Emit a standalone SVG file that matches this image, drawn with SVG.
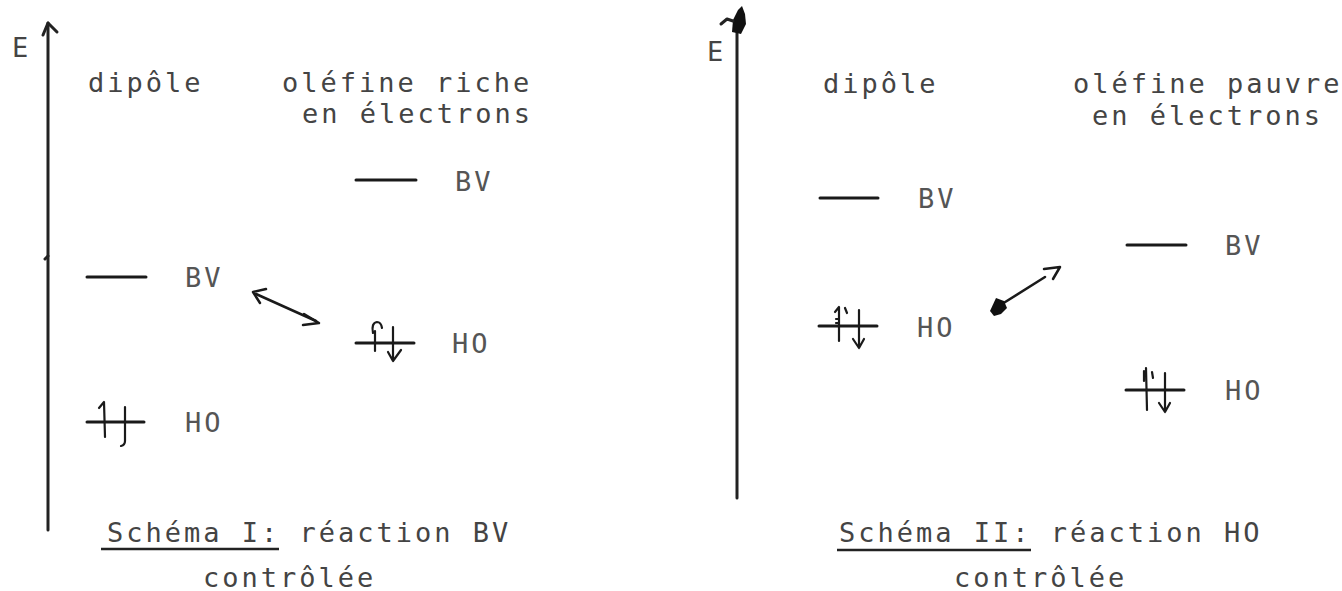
<svg xmlns="http://www.w3.org/2000/svg" width="1342" height="591" viewBox="0 0 1342 591">
<style>
  text { font-family: "DejaVu Sans Mono", "Liberation Mono", monospace; font-size: 27px; letter-spacing: 3px; fill: #444; }
  .lbl { fill: #555; }
  .lvl { stroke: #1a1a1a; stroke-width: 3; stroke-linecap: round; fill: none; }
  .e { stroke: #1a1a1a; stroke-width: 2.2; stroke-linecap: round; stroke-linejoin: round; fill: none; }
  .axis { stroke: #222; stroke-width: 3; fill: none; stroke-linecap: round; stroke-linejoin: round; }
  .ul { stroke: #222; stroke-width: 2.5; }
  .conn { stroke: #1a1a1a; stroke-width: 2.5; fill: none; stroke-linecap: round; stroke-linejoin: round; }
</style>

<!-- Scheme I -->
<g id="axis1">
  <line class="axis" x1="48" y1="23" x2="48" y2="530"/>
  <path class="axis" d="M 43 35 L 48 23 L 57 32"/>
  <path class="axis" d="M 48 256 L 45 259"/>
  <text x="12" y="57">E</text>
</g>
<g id="head1-dipole"><text x="88" y="92">dipôle</text></g>
<g id="head1-olefin">
  <text x="282" y="92">oléfine riche</text>
  <text x="302" y="123">en électrons</text>
</g>
<g id="s1-olefin-BV">
  <line class="lvl" x1="356" y1="180" x2="416" y2="180"/>
  <text class="lbl" x="455" y="191">BV</text>
</g>
<g id="s1-dipole-BV">
  <line class="lvl" x1="87" y1="277" x2="146" y2="277"/>
  <text class="lbl" x="185" y="287">BV</text>
</g>
<g id="s1-olefin-HO">
  <line class="lvl" x1="356" y1="343" x2="414" y2="343"/>
  <path class="e" d="M 375 351 L 375 331 M 373 333 Q 371 323 377 322 Q 381 322 382 328"/>
  <path class="e" d="M 393 327 L 393 361 M 388 352 L 393 361 L 401 350"/>
  <text class="lbl" x="452" y="353">HO</text>
</g>
<g id="s1-dipole-HO">
  <line class="lvl" x1="87" y1="422" x2="144" y2="422"/>
  <path class="e" d="M 104 402 L 105 437 M 99 408 L 104 402"/>
  <path class="e" d="M 125 407 L 125 441 Q 125 445 121 446"/>
  <text class="lbl" x="185" y="432">HO</text>
</g>
<g id="caption1">
  <text x="107" y="542">Schéma I: réaction BV</text>
  <line class="ul" x1="101" y1="549" x2="279" y2="549"/>
  <text x="203" y="587">contrôlée</text>
</g>

<!-- Scheme II -->
<g id="axis2">
  <line class="axis" x1="737" y1="24" x2="737" y2="498"/>
  <path d="M 732 32 L 733 20 L 738 10 L 742 6 L 745 14 L 746 24 L 741 34 Z" fill="#111"/>
  <path class="axis" d="M 721 24 L 727 19 L 733 21" stroke-width="2"/>
  <text x="707" y="61">E</text>
</g>
<g id="head2-dipole"><text x="823" y="93">dipôle</text></g>
<g id="head2-olefin">
  <text x="1073" y="93">oléfine pauvre</text>
  <text x="1092" y="125">en électrons</text>
</g>
<g id="s2-dipole-BV">
  <line class="lvl" x1="820" y1="198" x2="878" y2="198"/>
  <text class="lbl" x="918" y="208">BV</text>
</g>
<g id="s2-olefin-BV">
  <line class="lvl" x1="1127" y1="245" x2="1186" y2="245"/>
  <text class="lbl" x="1225" y="255">BV</text>
</g>
<g id="s2-dipole-HO">
  <line class="lvl" x1="819" y1="326" x2="877" y2="326"/>
  <path class="e" d="M 839 307 L 839 341 M 835 312 L 839 307 M 836 319 L 839 319 M 836 323 L 839 323"/>
  <path class="e" d="M 845 308 L 847 313"/>
  <path class="e" d="M 859 310 L 859 348 M 853 339 L 859 348 L 864 339"/>
  <text class="lbl" x="917" y="337">HO</text>
</g>
<g id="s2-olefin-HO">
  <line class="lvl" x1="1126" y1="390" x2="1184" y2="390"/>
  <path class="e" d="M 1146 368 L 1147 410 M 1144 371 L 1144 381" stroke-width="3"/>
  <path class="e" d="M 1152 372 L 1153 378"/>
  <path class="e" d="M 1165 373 L 1165 412 M 1159 403 L 1165 412 L 1170 403"/>
  <text class="lbl" x="1225" y="400">HO</text>
</g>
<g id="caption2">
  <text x="839" y="542">Schéma II: réaction HO</text>
  <line class="ul" x1="837" y1="550" x2="1031" y2="550"/>
  <text x="954" y="587">contrôlée</text>
</g>

<!-- connectors -->
<g id="connectors">
  <path class="conn" d="M 256 294 L 316 321"/>
  <path class="conn" d="M 266 289 L 253 292 L 260 303"/>
  <path class="conn" d="M 304 314 L 319 323 L 303 325"/>
  <path class="conn" d="M 1002 304 L 1045 277"/>
  <path class="conn" d="M 1044 269 L 1060 267 L 1053 279"/>
  <path d="M 990 311 L 996 298 L 1004 301 L 1007 308 L 1001 314 L 994 316 Z" fill="#111"/>
</g>
</svg>
